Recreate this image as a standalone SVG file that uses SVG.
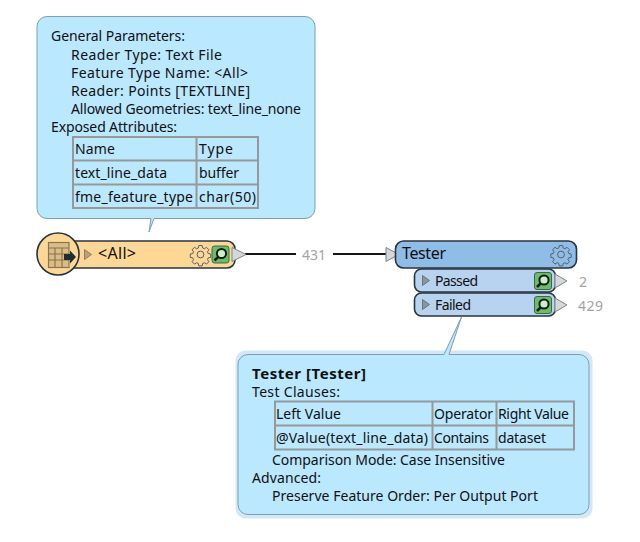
<svg xmlns="http://www.w3.org/2000/svg" xmlns:xlink="http://www.w3.org/1999/xlink" width="640" height="542" viewBox="0 0 640 542">
<style>
text{font-family:"Noto Sans","DejaVu Sans",sans-serif;font-size:14px;fill:#101010}
.bubble{fill:#b9e8ff;stroke:#7d9fae;stroke-width:1}
.cell{fill:none;stroke:#989898;stroke-width:2}
.nodeline{stroke:#2a343c;stroke-width:1.6}
.port{fill:#d4d8da;stroke:#7b8387;stroke-width:1}
.tri{fill:#8b959c;stroke:#69757c;stroke-width:1}
.count{fill:#a3a3a3}
.big{font-size:16px}
</style>
<defs>
<g id="gear"><path fill="none" stroke="#55616b" stroke-width="1" d="M-1.700-9h3.400l.5 2.500 1.700.7 2.100-1.400 2.400 2.400-1.400 2.100.7 1.700 2.500.5v3.400l-2.500.5-.7 1.700 1.400 2.100-2.400 2.400-2.100-1.400-1.700.7-.5 2.500h-3.400l-.5-2.500-1.700-.7-2.100 1.400-2.400-2.400 1.400-2.100-.7-1.700-2.500-.5v-3.400l2.500-.5.7-1.700-1.400-2.100 2.400-2.400 2.100 1.400 1.700-.7z"/><circle r="3.400" fill="none" stroke="#55616b" stroke-width="1"/></g>
<g id="mag"><rect x="-8.500" y="-8.500" width="17" height="17" rx="2.500" fill="#6dbb6a" stroke="#3c6a3f" stroke-width="1"/><circle cx="1" cy="-1" r="4.600" fill="#cdeec8" stroke="#0f2018" stroke-width="2"/><path d="M-2.300 2.300L-6 6" stroke="#0f2018" stroke-width="2.600" fill="none"/></g>
</defs>

<g id="connectors">
<path d="M245 254H296M333 254H386" stroke="#141414" stroke-width="1.800" fill="none"/>
<text class="count" x="302" y="260" textLength="24">431</text>
<text class="count" x="579" y="287" textLength="8">2</text>
<text class="count" x="578" y="311" textLength="25">429</text>
</g>

<g id="reader-callout">
<path class="bubble" d="M47 16.500H305a10 10 0 0 1 10 10V208.500a10 10 0 0 1-10 10H154L149 232L151 218.500H47a10 10 0 0 1-10-10V26.500a10 10 0 0 1 10-10z"/>
<text x="51" y="41" textLength="134">General Parameters:</text>
<text x="71" y="60" textLength="151">Reader Type: Text File</text>
<text x="71" y="78" textLength="177">Feature Type Name: &lt;All&gt;</text>
<text x="71" y="96" textLength="179">Reader: Points [TEXTLINE]</text>
<text x="71" y="114" textLength="230">Allowed Geometries: text_line_none</text>
<text x="51" y="132" textLength="126">Exposed Attributes:</text>
<path class="cell" d="M73 137H258V208H73zM73 160.500H258M73 184.500H258M196.500 137V208"/>
<text x="75" y="154" textLength="40">Name</text>
<text x="199" y="154" textLength="34">Type</text>
<text x="75" y="178" textLength="92">text_line_data</text>
<text x="199" y="178" textLength="40">buffer</text>
<text x="75" y="202" textLength="118">fme_feature_type</text>
<text x="199" y="202" textLength="57">char(50)</text>
</g>

<g id="reader-node">
<rect class="nodeline" x="60" y="241" width="175" height="27" rx="8" fill="#fdd796"/>
<circle class="nodeline" cx="58" cy="254" r="21" fill="#fdd796"/>
<g stroke="#8a7550" stroke-width="1.200" fill="#d9bd85"><rect x="48.500" y="242.500" width="20.500" height="25"/><path d="M48.500 248h20.500M48.500 254h20.500M48.500 260h20.500M55 248v19.500M62 248v19.500" fill="none"/></g>
<path d="M64 254h6v-3.500l6 6.500-6 6.500V260h-6z" fill="#1d2d33"/>
<path d="M84.500 249.500l7 5-7 5z" fill="#b5a27e" stroke="#8f8060"/>
<text class="big" x="98" y="259" textLength="38">&lt;All&gt;</text>
<use xlink:href="#gear" href="#gear" x="200.500" y="254.500"/>
<use xlink:href="#mag" href="#mag" x="220.500" y="254.500"/>
<path class="port" d="M232 247.500l14 7-14 7z"/>
</g>

<g id="tester-node">
<path class="port" d="M386 247.500l13 7-13 7z"/>
<rect class="nodeline" x="395.500" y="241" width="181" height="27" rx="8" fill="#90bde8"/>
<text class="big" x="402" y="259" textLength="44">Tester</text>
<use xlink:href="#gear" href="#gear" x="561" y="254.500"/>
</g>

<g id="passed-port">
<rect class="nodeline" x="414.500" y="269" width="141" height="23" rx="7" fill="#b7d3f0"/>
<path class="tri" d="M422.500 275.500l7 5-7 5z"/>
<text x="435" y="286" textLength="43">Passed</text>
<use xlink:href="#mag" href="#mag" x="543" y="281"/>
<path class="port" d="M555 274l12 7-12 7z"/>
</g>

<g id="failed-port">
<rect class="nodeline" x="414.500" y="293" width="141" height="23" rx="7" fill="#b7d3f0"/>
<path class="tri" d="M422.500 299.500l7 5-7 5z"/>
<text x="435" y="310" textLength="36">Failed</text>
<use xlink:href="#mag" href="#mag" x="543" y="305"/>
<path class="port" d="M555 298l12 7-12 7z"/>
</g>

<g id="tester-callout">
<rect x="235.500" y="350.500" width="357" height="168" rx="10" fill="#d3e8f7"/>
<path class="bubble" d="M248 354.500H444L461.500 317L449 354.500H579a10 10 0 0 1 10 10V504.500a10 10 0 0 1-10 10H248a10 10 0 0 1-10-10V364.500a10 10 0 0 1 10-10z"/>
<text x="252" y="378.500" textLength="114" style="font-weight:700;font-size:15px">Tester [Tester]</text>
<text x="252" y="397" textLength="88">Test Clauses:</text>
<path class="cell" d="M275 401.500H574V449.500H275zM275 425.500H574M432.500 401.500V449.500M496.500 401.500V449.500"/>
<text x="276" y="419" textLength="65">Left Value</text>
<text x="434" y="419" textLength="59">Operator</text>
<text x="498" y="419" textLength="71">Right Value</text>
<text x="276" y="443" textLength="152">@Value(text_line_data)</text>
<text x="434" y="443" textLength="55">Contains</text>
<text x="498" y="443" textLength="48">dataset</text>
<text x="272" y="465" textLength="233">Comparison Mode: Case Insensitive</text>
<text x="252" y="483" textLength="69">Advanced:</text>
<text x="272" y="501" textLength="266">Preserve Feature Order: Per Output Port</text>
</g>
</svg>
